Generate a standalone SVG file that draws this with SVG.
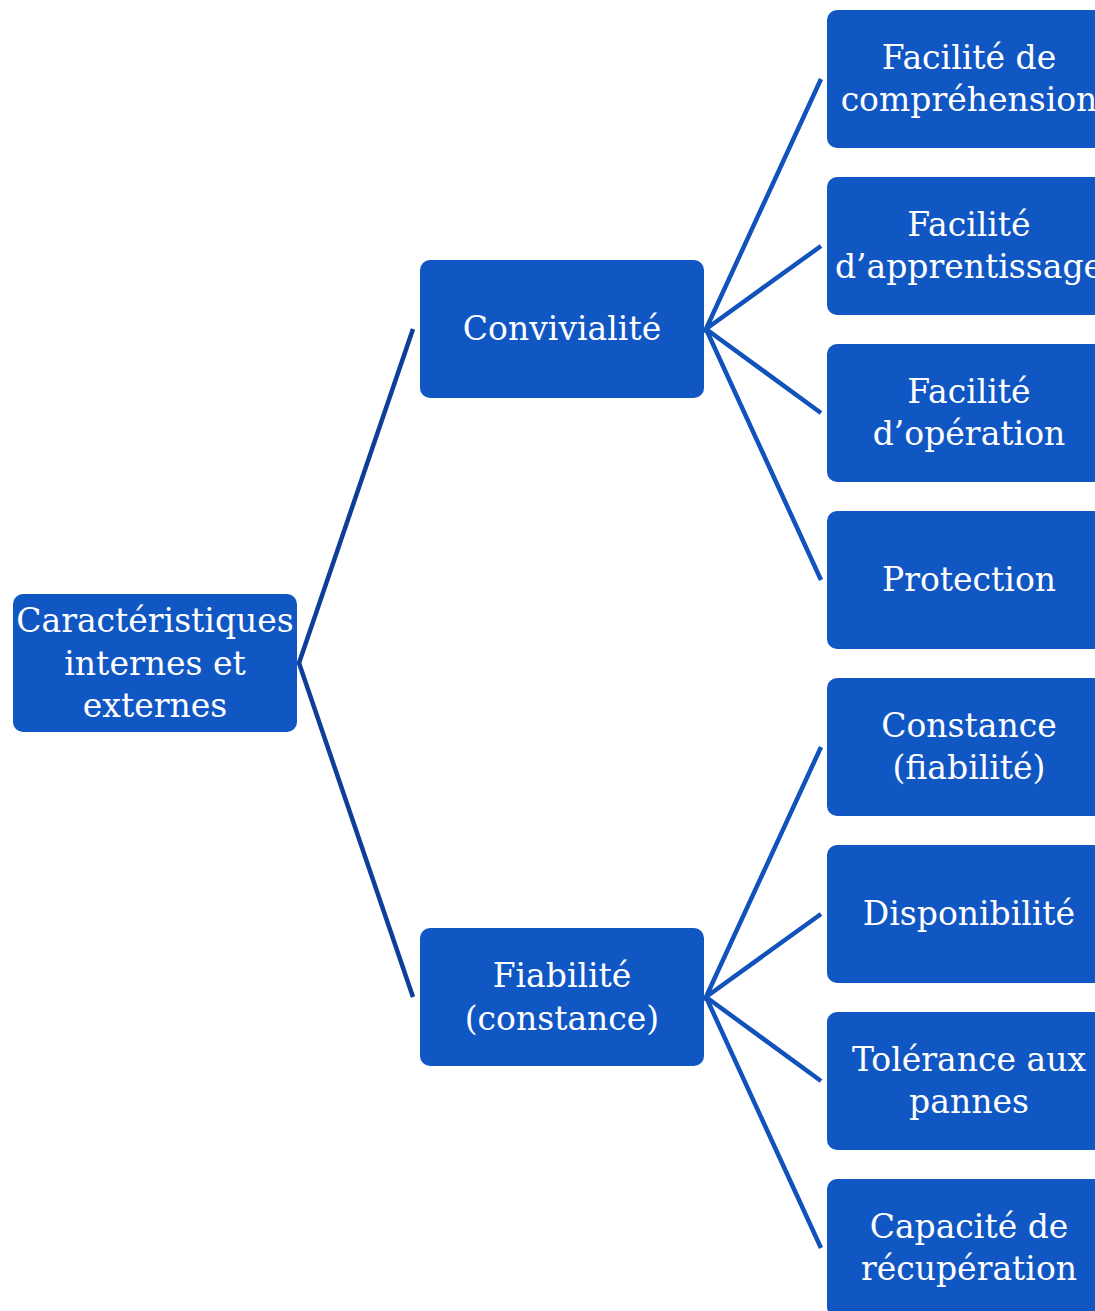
<svg xmlns="http://www.w3.org/2000/svg" width="1095" height="1311" viewBox="0 0 1095 1311">
  <style>
    .box { fill: #1157c4; }
    .lbl { fill: #ffffff; font-family: "DejaVu Serif", "Liberation Serif", serif; font-size: 33px; text-anchor: middle; }
    .l1 { stroke: #0d3f9a; stroke-width: 4.5; fill: none; }
    .l2 { stroke: #1152bb; stroke-width: 4.5; fill: none; }
  </style>
  <rect width="1095" height="1311" fill="#ffffff"/>

  <!-- connectors -->
  <g id="connectors">
    <path class="l1" d="M413,329 L299,663 L413,997"/>
    <path class="l2" d="M821,79 L706,329 L821,246 M706,329 L821,413 M706,329 L821,580"/>
    <path class="l2" d="M821,747 L706,997 L821,914 M706,997 L821,1081 M706,997 L821,1248"/>
  </g>

  <!-- root -->
  <g id="root">
    <rect class="box" x="13" y="594" width="284" height="138" rx="10"/>
    <text class="lbl" x="155" y="632">Caractéristiques</text>
    <text class="lbl" x="155" y="675">internes et</text>
    <text class="lbl" x="155" y="717">externes</text>
  </g>

  <!-- level 1 -->
  <g id="convivialite">
    <rect class="box" x="420" y="260" width="284" height="138" rx="10"/>
    <text class="lbl" x="562" y="340">Convivialité</text>
  </g>
  <g id="fiabilite">
    <rect class="box" x="420" y="928" width="284" height="138" rx="10"/>
    <text class="lbl" x="562" y="987">Fiabilité</text>
    <text class="lbl" x="562" y="1030">(constance)</text>
  </g>

  <!-- leaves -->
  <g id="comprehension">
    <rect class="box" x="827" y="10" width="284" height="138" rx="10"/>
    <text class="lbl" x="969" y="69">Facilité de</text>
    <text class="lbl" x="969" y="111">compréhension</text>
  </g>
  <g id="apprentissage">
    <rect class="box" x="827" y="177" width="284" height="138" rx="10"/>
    <text class="lbl" x="969" y="236">Facilité</text>
    <text class="lbl" x="969" y="278">d’apprentissage</text>
  </g>
  <g id="operation">
    <rect class="box" x="827" y="344" width="284" height="138" rx="10"/>
    <text class="lbl" x="969" y="403">Facilité</text>
    <text class="lbl" x="969" y="445">d’opération</text>
  </g>
  <g id="protection">
    <rect class="box" x="827" y="511" width="284" height="138" rx="10"/>
    <text class="lbl" x="969" y="591">Protection</text>
  </g>
  <g id="constance">
    <rect class="box" x="827" y="678" width="284" height="138" rx="10"/>
    <text class="lbl" x="969" y="737">Constance</text>
    <text class="lbl" x="969" y="779">(fiabilité)</text>
  </g>
  <g id="disponibilite">
    <rect class="box" x="827" y="845" width="284" height="138" rx="10"/>
    <text class="lbl" x="969" y="925">Disponibilité</text>
  </g>
  <g id="tolerance">
    <rect class="box" x="827" y="1012" width="284" height="138" rx="10"/>
    <text class="lbl" x="969" y="1071">Tolérance aux</text>
    <text class="lbl" x="969" y="1113">pannes</text>
  </g>
  <g id="recuperation">
    <rect class="box" x="827" y="1179" width="284" height="138" rx="10"/>
    <text class="lbl" x="969" y="1238">Capacité de</text>
    <text class="lbl" x="969" y="1280">récupération</text>
  </g>
</svg>
